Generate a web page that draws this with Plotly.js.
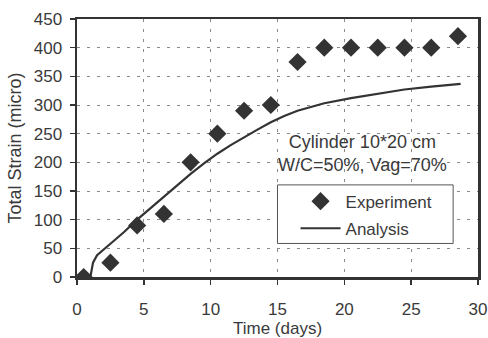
<!DOCTYPE html>
<html>
<head>
<meta charset="utf-8">
<script src="https://cdn.plot.ly/plotly-3.0.1.min.js"></script>
<style>html,body{margin:0;padding:0;background:#fff}#chart{width:488px;height:338px}</style>
</head>
<body>
<div id="chart"></div>
<script>
const expDays = [0.5, 2.5, 4.5, 6.5, 8.5, 10.5, 12.5, 14.5, 16.5, 18.5, 20.5, 22.5, 24.5, 26.5, 28.5];
const expStrain = [0, 25, 90, 110, 200, 250, 290, 300, 375, 400, 400, 400, 400, 400, 420];
const anaDays = [0.5, 1.0, 1.2, 1.5, 2.5, 3.5, 4.5, 5.5, 6.5, 7.5, 8.5, 9.5, 10.5, 11.5, 12.5, 13.5, 14.5, 15.5, 16.5, 18.5, 20.5, 22.5, 24.5, 26.5, 28.7];
const anaStrain = [0, 0, 25, 38, 58, 78, 100, 120, 140, 160, 180, 198, 215, 230, 244, 257, 270, 281, 290, 303, 312, 320, 327, 332, 337];
const xTicks = [0, 5, 10, 15, 20, 25, 30];
const yTicks = [0, 50, 100, 150, 200, 250, 300, 350, 400, 450];

const ink = '#333333';
const txt = '#3a3a3a';
const font = 'Liberation Sans, Arial, sans-serif';

const traces = [
  {x: expDays, y: expStrain, type: 'scatter', mode: 'markers', name: 'Experiment',
   legendgroup: 'a', marker: {symbol: 'diamond', size: 14, color: ink}},
  {x: anaDays, y: anaStrain, type: 'scatter', mode: 'lines', name: 'Analysis',
   legendgroup: 'b', line: {color: ink, width: 2.2}}
];

const axisCommon = {
  showline: true, mirror: true, linecolor: ink, linewidth: 2.5,
  ticks: 'outside', ticklen: 5, tickcolor: ink, tickwidth: 1.5,
  showgrid: true, gridcolor: '#8a8a8a', gridwidth: 1, griddash: '3px,7px',
  zeroline: false, tickfont: {family: font, size: 17, color: txt}
};

const layout = {
  width: 488, height: 338,
  margin: {l: 77, r: 10, t: 19, b: 61},
  paper_bgcolor: '#fff', plot_bgcolor: '#fff',
  font: {family: font, color: txt},
  xaxis: Object.assign({}, axisCommon, {
    range: [0, 30], tickvals: xTicks, ticklabelstandoff: 10,
    title: {text: 'Time (days)', font: {family: font, size: 17, color: txt}, standoff: 2}
  }),
  yaxis: Object.assign({}, axisCommon, {
    range: [0, 450], tickvals: yTicks, ticklabelstandoff: 4,
    title: {text: 'Total Strain (micro)', font: {family: font, size: 18, color: txt}, standoff: 8}
  }),
  showlegend: true,
  legend: {
    x: 0.545, y: 0.362, xanchor: 'left', yanchor: 'top',
    bgcolor: 'rgba(0,0,0,0)', borderwidth: 0,
    traceorder: 'grouped', tracegroupgap: 2, itemwidth: 40,
    font: {family: font, size: 17, color: txt}
  },
  shapes: [{
    type: 'rect', xref: 'paper', yref: 'paper', layer: 'above',
    x0: 0.5, x1: 0.938, y0: 0.13, y1: 0.357,
    fillcolor: '#fff', line: {color: '#555', width: 1}
  }],
  annotations: [{
    xref: 'paper', yref: 'paper', x: 0.713, y: 0.48, xanchor: 'center', yanchor: 'middle',
    showarrow: false, align: 'center',
    text: 'Cylinder 10*20 cm<br>W/C=50%, Vag=70%',
    font: {family: font, size: 18, color: txt}
  }]
};

Plotly.newPlot('chart', traces, layout, {displayModeBar: false, staticPlot: true});
</script>
</body>
</html>
